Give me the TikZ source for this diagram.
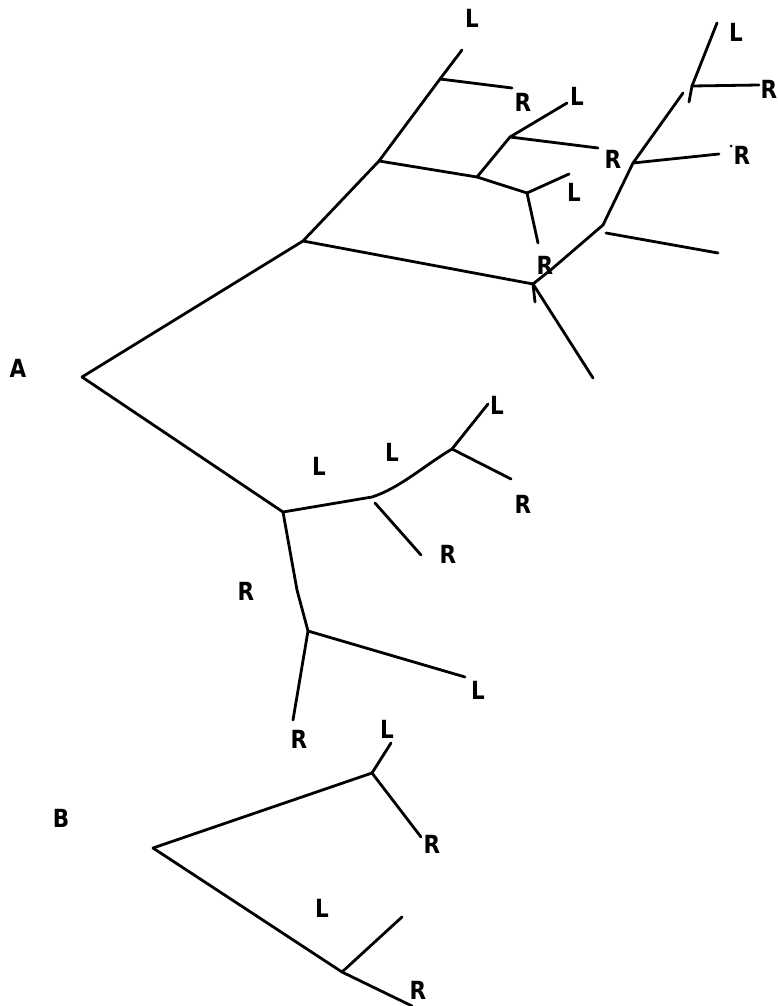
\documentclass[tikz,border=0pt]{standalone}
\usepackage{fontspec}
\setmainfont{DejaVu Sans}
\newcommand\lbl[1]{\scalebox{0.86}[1]{#1}}
\begin{document}
\begin{tikzpicture}[x=1pt,y=-1pt,
  br/.style={line width=2.8pt,line cap=round,line join=round},
  lab/.style={font=\bfseries\fontsize{25}{25}\selectfont,inner sep=0pt}]
\useasboundingbox (0,0) rectangle (778,1006);
% ---- tree A, upper part
\coordinate (a0) at (82,377);
\coordinate (a1) at (303,241);
\coordinate (a2) at (379,161);
\coordinate (a3) at (440,79);
\coordinate (a3L) at (462,50);
\coordinate (a3R) at (512,88);
\coordinate (a4) at (477,177);
\coordinate (a5) at (510,137);
\coordinate (a5L) at (567,103);
\coordinate (a5R) at (598,148);
\coordinate (a6) at (527,193);
\coordinate (a6L) at (569,174);
\coordinate (a6R) at (538,243);
\coordinate (a7) at (533,284);
\coordinate (a7d) at (593,378);
\coordinate (a7t) at (535,302);
\coordinate (a8) at (603,225);
\coordinate (a8s) at (606,233);
\coordinate (a8e) at (718,253);
\coordinate (a9) at (633,163);
\coordinate (a9R) at (719,154);
\coordinate (a10) at (683,93);
\coordinate (a11t) at (717,23);
\coordinate (a11) at (692,86);
\coordinate (a11b) at (689,102);
\coordinate (a11R) at (759,85);
\draw[br] (a0) -- (a1) -- (a2) -- (a3) -- (a3L);
\draw[br] (a3) -- (a3R);
\draw[br] (a2) -- (a4) -- (a6) -- (a6R);
\draw[br] (a6) -- (a6L);
\draw[br] (a4) -- (a5) -- (a5L);
\draw[br] (a5) -- (a5R);
\draw[br] (a1) -- (a7) -- (a7d);
\draw[br] (a7) -- (a7t);
\draw[br] (a7) -- (553,268) -- (a8) -- (a9) -- (a10);
\draw[br] (a8s) -- (a8e);
\draw[br] (a9) -- (a9R);
\draw[br] (a11t) -- (a11) -- (a11b);
\draw[br] (a11) -- (a11R);
% ---- tree A, lower part
\coordinate (b0) at (283,512);
\coordinate (b1) at (372,497);
\coordinate (b2) at (452,449);
\coordinate (b2L) at (488,404);
\coordinate (b2R) at (511,479);
\coordinate (b1s) at (375,503);
\coordinate (b1R) at (421,555);
\coordinate (b3) at (308,631);
\coordinate (b3L) at (465,677);
\coordinate (b3R) at (293,720);
\draw[br] (a0) -- (b0) -- (b1) .. controls (400,488) and (425,465) .. (b2) -- (b2L);
\draw[br] (b2) -- (b2R);
\draw[br] (b1s) -- (b1R);
\draw[br] (b0) -- (297,590) -- (b3) -- (b3L);
\draw[br] (b3) -- (b3R);
% ---- tree B
\coordinate (c0) at (153,848);
\coordinate (c1) at (372,773);
\coordinate (c1L) at (391,743);
\coordinate (c1R) at (421,837);
\coordinate (c2) at (342,972);
\coordinate (c2b) at (402,917);
\coordinate (c2R) at (412,1006);
\draw[br] (c0) -- (c1) -- (c1L);
\draw[br] (c1) -- (c1R);
\draw[br] (c0) -- (c2) -- (c2R);
\draw[br] (c2) -- (c2b);
% ---- labels
\node[lab] (lA) at (18,368) {\lbl{A}};
\node[lab] (lB) at (61,818) {\lbl{B}};
\node[lab] (l1) at (472,18) {\lbl{L}};
\node[lab] (l2) at (523,102) {\lbl{R}};
\node[lab] (l3) at (577,96) {\lbl{L}};
\node[lab] (l4) at (613,159) {\lbl{R}};
\node[lab] (l5) at (574,192) {\lbl{L}};
\node[lab] (l6) at (545,265) {\lbl{R}};
\node[lab] (l7) at (736,32) {\lbl{L}};
\node[lab] (l8) at (769,89) {\lbl{R}};
\node[lab] (l9) at (742,155) {\lbl{R}};
\fill (731,146) circle (1.5pt);
\node[lab] (l10) at (319,466) {\lbl{L}};
\node[lab] (l11) at (392,452) {\lbl{L}};
\node[lab] (l12) at (497,405) {\lbl{L}};
\node[lab] (l13) at (523,504) {\lbl{R}};
\node[lab] (l14) at (448,554) {\lbl{R}};
\node[lab] (l15) at (246,591) {\lbl{R}};
\node[lab] (l16) at (478,690) {\lbl{L}};
\node[lab] (l17) at (299,739) {\lbl{R}};
\node[lab] (l18) at (387,729) {\lbl{L}};
\node[lab] (l19) at (432,844) {\lbl{R}};
\node[lab] (l20) at (322,908) {\lbl{L}};
\node[lab] (l21) at (418,990) {\lbl{R}};
\end{tikzpicture}
\end{document}
